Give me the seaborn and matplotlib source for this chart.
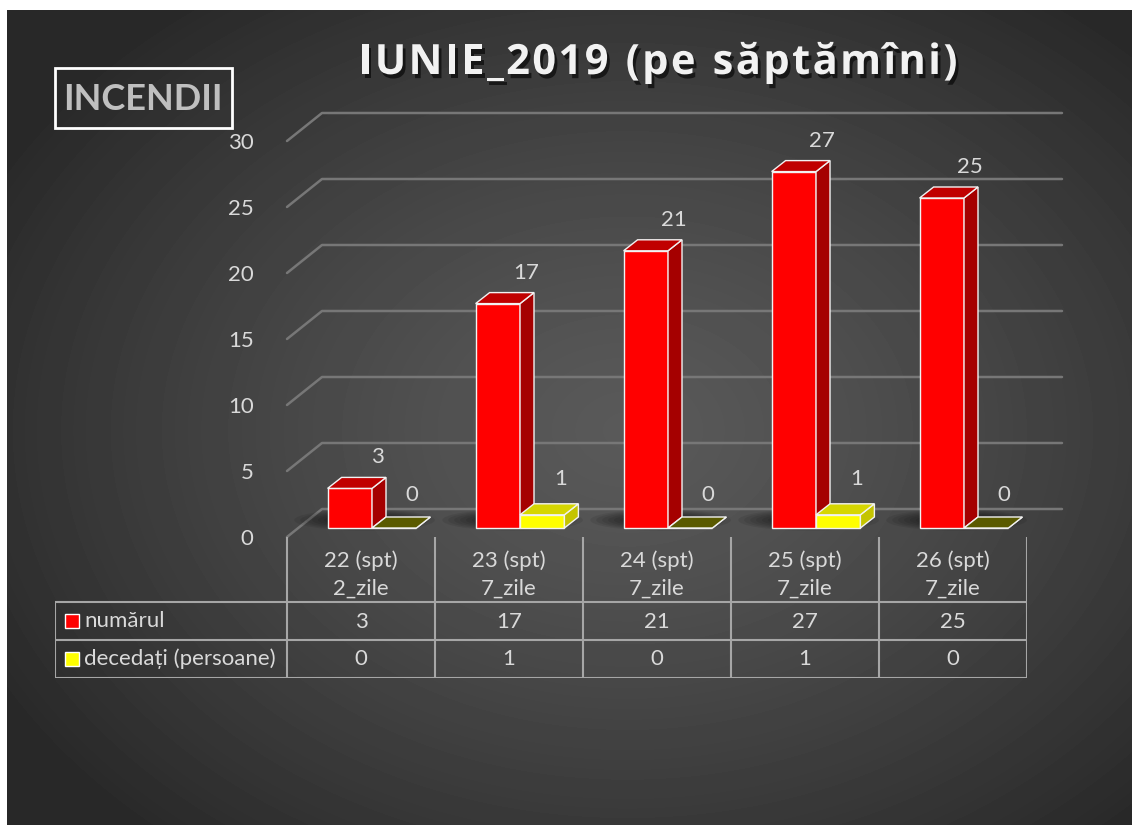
import numpy as np
import pandas as pd
import seaborn as sns
import matplotlib.pyplot as plt
from matplotlib.patches import Polygon, Rectangle, Ellipse
from matplotlib.transforms import ScaledTranslation
import matplotlib.patheffects as pe

# data
weeks = ['22 (spt)', '23 (spt)', '24 (spt)', '25 (spt)', '26 (spt)']
days = ['2_zile', '7_zile', '7_zile', '7_zile', '7_zile']
numarul = [3, 17, 21, 27, 25]
decedati = [0, 1, 0, 1, 0]
series = ['numărul', 'decedați (persoane)']
title = 'IUNIE_2019 (pe săptămîni)'

colors = ['#ff0000', '#ffff00']
side_colors = ['#a50000', '#c4c400']
top_colors = ['#c00000', '#d6d600']
flat_color = '#5a5a00'
txt = '#d9d9d9'
linec = '#a6a6a6'
fs = 16

df = pd.DataFrame({
    'week': weeks * 2,
    'serie': [series[0]] * len(weeks) + [series[1]] * len(weeks),
    'val': numarul + decedati,
})

sns.set_theme(style='white')
plt.rcParams['font.family'] = ['Lato', 'Noto Sans', 'DejaVu Sans']

W, H = 1132, 825
fig = plt.figure(figsize=(W / 100, H / 100), dpi=100)
fig.patch.set_facecolor('white')


def box(x0, y0, x1, y1):
    # pixel box, origin top-left -> figure fraction
    return [x0 / W, 1 - y1 / H, (x1 - x0) / W, (y1 - y0) / H]


# dark radial background
bg = fig.add_axes(box(7, 10, W, H))
yy, xx = np.mgrid[0:H - 10, 0:W - 7]
r = np.sqrt(((xx - 620) / 720) ** 2 + ((yy - 420) / 540) ** 2)
g = 0.35 - 0.19 * np.clip(r, 0, 1) ** 1.3
bg.imshow(g, cmap='gray', vmin=0, vmax=1, aspect='auto', interpolation='bilinear')
bg.axis('off')

# chart (front plane)
ax = fig.add_axes(box(287, 141, 1027, 537))
ax.set_facecolor('none')
sns.barplot(data=df, x='week', y='val', hue='serie', palette=colors, width=0.6,
            saturation=1, edgecolor='#f2f2f2', linewidth=1, legend=False, ax=ax)
ax.set_xlim(-0.5, 4.5)
ax.set_ylim(0, 30)
px_x = 740 / 5
px_y = 396 / 30

# back wall grid
bx, by = 35 / px_x, 28 / px_y
for v in range(0, 31, 5):
    ax.plot([-0.5, -0.5 + bx, 4.5 + bx], [v, v + by, v + by], color='#777777',
            lw=1.8, clip_on=False, zorder=1)

# soft shadows on the floor
shift = ax.transData + ScaledTranslation(11 / 100, 9 / 100, fig.dpi_scale_trans)
for i in range(len(weeks)):
    for k in range(8):
        ax.add_patch(Ellipse((i - 0.05, 0.6), 0.95 - k * 0.08, 1.6 - k * 0.15,
                             fc='black', ec='none', alpha=0.08, transform=shift,
                             zorder=2, clip_on=False))

# 3d-ish bars
dx, dy = 14 / px_x, 11 / px_y
n = len(weeks)
for i, p in enumerate(ax.patches[:2 * n]):
    s = i // n
    vals = numarul if s == 0 else decedati
    v = vals[i % n]
    z = 3 + s
    x, w, h = p.get_x(), p.get_width(), p.get_height()
    p.set_transform(shift)
    p.set_zorder(z)
    p.set_clip_on(False)
    side = Polygon([(x + w, 0), (x + w + dx, dy), (x + w + dx, h + dy), (x + w, h)],
                   fc=side_colors[s], ec='#f2f2f2', lw=1, transform=shift, zorder=z,
                   clip_on=False)
    top = Polygon([(x, h), (x + dx, h + dy), (x + w + dx, h + dy), (x + w, h)],
                  fc=top_colors[s] if h > 0 else flat_color, ec='#f2f2f2', lw=1,
                  transform=shift, zorder=z, clip_on=False)
    ax.add_patch(side)
    ax.add_patch(top)
    off = (39, 40) if s == 0 else (29, 45 if v > 0 else 42)
    ax.annotate(str(v), (x + w / 2, h), xytext=off, textcoords='offset pixels',
                ha='center', va='center', fontsize=fs, color=txt, zorder=6)

ax.set_yticks(range(0, 31, 5))
ax.set_xticks([])
ax.set_xlabel('')
ax.set_ylabel('')
ax.tick_params(axis='y', length=0, pad=24, labelsize=fs, labelcolor=txt)
sns.despine(ax=ax, left=True, bottom=True)

# data table
tab = fig.add_axes(box(55, 537, 1027, 678))
xmin = -0.5 - 232 / px_x
tab.set_xlim(xmin, 4.5)
tab.set_ylim(141, 0)
tab.axis('off')
for y in [65, 103, 141]:
    tab.plot([xmin, 4.5], [y, y], color=linec, lw=1.5)
for k in range(n + 1):
    tab.plot([k - 0.5, k - 0.5], [0, 141], color=linec, lw=1.5)
tab.plot([xmin, xmin], [65, 141], color=linec, lw=1.5)
for i in range(n):
    tab.text(i, 24, weeks[i], ha='center', va='center', fontsize=fs, color=txt)
    tab.text(i, 52, days[i], ha='center', va='center', fontsize=fs, color=txt)
    tab.text(i, 85, str(numarul[i]), ha='center', va='center', fontsize=fs, color=txt)
    tab.text(i, 122, str(decedati[i]), ha='center', va='center', fontsize=fs, color=txt)
for s, yc in enumerate([84, 122]):
    tab.add_patch(Rectangle((xmin + 10 / px_x, yc - 7), 14 / px_x, 14,
                            fc=colors[s], ec='white', lw=1))
    tab.text(xmin + 29 / px_x, yc, series[s], ha='left', va='center',
             fontsize=fs, color=txt)

# title (with some letter spacing) & label box
ov = fig.add_axes([0, 0, 1, 1])
ov.set_xlim(0, W)
ov.set_ylim(H, 0)
ov.axis('off')
renderer = fig.canvas.get_renderer()
tkw = dict(fontsize=30, fontweight='bold', color='#f2f2f2', va='baseline', ha='left',
           family=['Open Sans', 'DejaVu Sans'],
           path_effects=[pe.withSimplePatchShadow(offset=(2, -3), shadow_rgbFace='black', alpha=0.6)])
track = 2.4
widths = []
for ch in title:
    t = ov.text(0, 0, ch if ch != ' ' else 'n', **tkw)
    bb = t.get_window_extent(renderer)
    widths.append(bb.width * (0.45 if ch == ' ' else 1.0))
    t.remove()
total = sum(widths) + track * (len(title) - 1)
xc = 658 - total / 2
for ch, wd in zip(title, widths):
    if ch != ' ':
        ov.text(xc, 74, ch, **tkw)
    xc += wd + track
ov.add_patch(Rectangle((55, 68), 177, 60, fill=False, ec='white', lw=2))
ov.text(143, 99, 'INCENDII', ha='center', va='center', fontsize=26,
        fontweight='bold', color='#bfbfbf')

fig.savefig('out.png', dpi=100)
